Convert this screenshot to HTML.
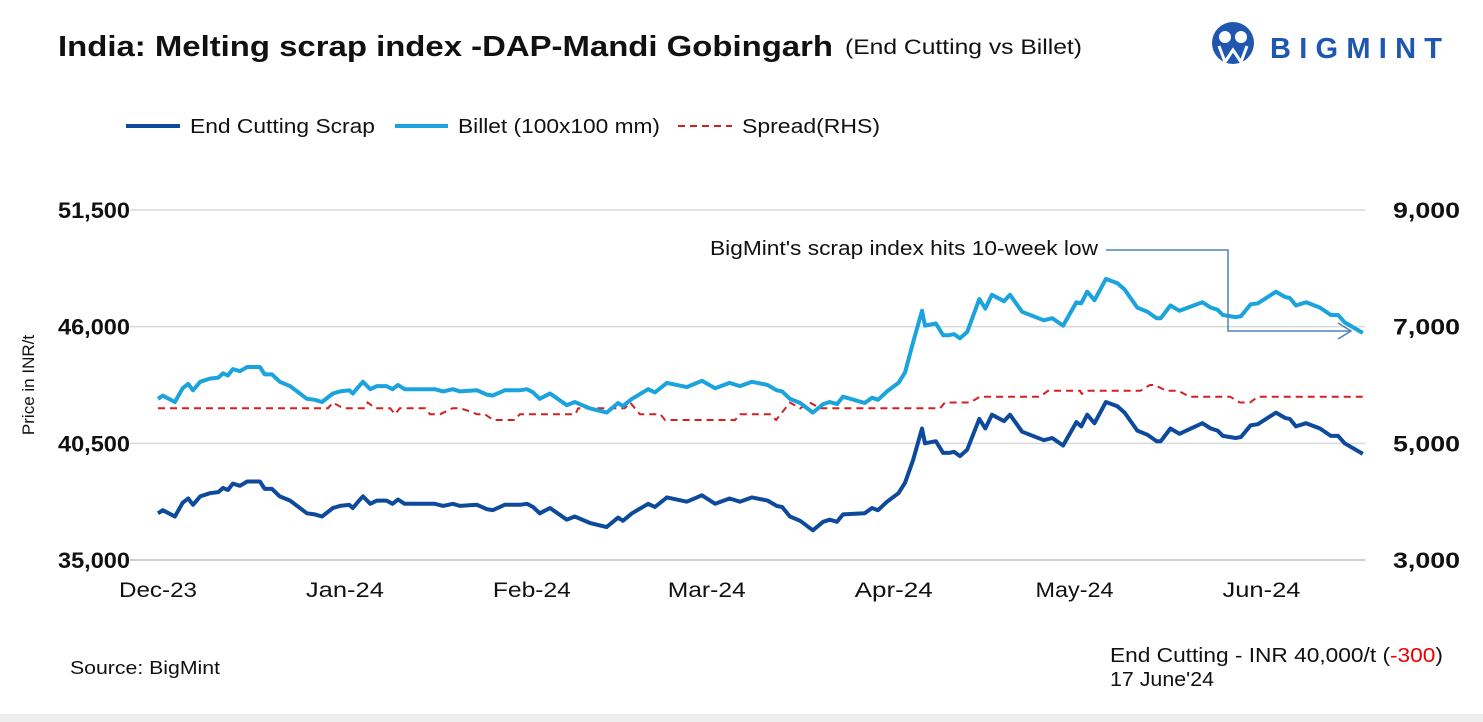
<!DOCTYPE html>
<html><head><meta charset="utf-8">
<style>
body{margin:0;background:#fff;width:1483px;height:722px;overflow:hidden;font-family:"Liberation Sans",sans-serif;}
svg{display:block}
</style></head>
<body>
<svg id="chart" width="1483" height="722" xmlns="http://www.w3.org/2000/svg">
<text x="58" y="56" font-size="29" font-weight="bold" fill="#111" textLength="775" lengthAdjust="spacingAndGlyphs">India: Melting scrap index -DAP-Mandi Gobingarh</text>
<text x="845" y="54" font-size="21" fill="#111" textLength="237" lengthAdjust="spacingAndGlyphs">(End Cutting vs Billet)</text>
<g>
<circle cx="1233" cy="43" r="21" fill="#1e56b0"/>
<circle cx="1225" cy="37" r="6" fill="#fff"/><circle cx="1241" cy="37" r="6" fill="#fff"/>
<path d="M1219 46 L1225 62 L1233 50 L1241 62 L1247 46" stroke="#fff" stroke-width="3" fill="none"/>
<text x="1270" y="58" font-size="29" font-weight="bold" fill="#1e56b0" textLength="172" lengthAdjust="spacing">BIGMINT</text>
</g>
<g>
<g><line x1="126" y1="126" x2="180" y2="126" stroke="#0d4a9c" stroke-width="4"/><text x="190" y="133" font-size="20" fill="#111" textLength="185" lengthAdjust="spacingAndGlyphs">End Cutting Scrap</text></g>
<g><line x1="395" y1="126" x2="448" y2="126" stroke="#1aa3dc" stroke-width="4"/><text x="458" y="133" font-size="20" fill="#111" textLength="202" lengthAdjust="spacingAndGlyphs">Billet (100x100 mm)</text></g>
<g><line x1="678" y1="126" x2="732" y2="126" stroke="#d42020" stroke-width="2" stroke-dasharray="7,5"/><text x="742" y="133" font-size="20" fill="#111" textLength="138" lengthAdjust="spacingAndGlyphs">Spread(RHS)</text></g>
</g>
<text transform="translate(34,385) rotate(-90)" text-anchor="middle" font-size="17" fill="#111">Price in INR/t</text>
<g id="grid"></g><g id="axes"></g><g id="series"></g>
<g>
<text x="710" y="255" font-size="20" fill="#111" textLength="388" lengthAdjust="spacingAndGlyphs">BigMint's scrap index hits 10-week low</text>
<polyline points="1106,250 1228,250 1228,331 1350,331" fill="none" stroke="#4f81bd" stroke-width="1.5"/>
<polyline points="1338,323 1351,331 1338,339" fill="none" stroke="#4f81bd" stroke-width="1.5"/>
</g>
<text x="70" y="674" font-size="18" fill="#111" textLength="150" lengthAdjust="spacingAndGlyphs">Source: BigMint</text>
<text x="1110" y="662" font-size="20" fill="#111" textLength="333" lengthAdjust="spacingAndGlyphs">End Cutting - INR 40,000/t (<tspan fill="#e00">-300</tspan>)</text>
<text x="1110" y="686" font-size="20" fill="#111" textLength="104" lengthAdjust="spacingAndGlyphs">17 June'24</text>
<rect x="0" y="714" width="1483" height="8" fill="#eeeeee"/>
</svg>
<script>
const days=[0,0.8,2.8,4.1,5,5.8,7,8.6,10,10.8,11.6,12.4,13.6,14.8,15.9,16.9,17.7,18.9,20.2,21.9,24.7,26,27.2,29,30.2,31.7,32.3,33.5,34,35.2,36.3,37.9,38.9,39.8,40.9,45.9,47.3,48.9,50.1,52.9,54.5,55.5,57.5,60,61.2,62.2,63.3,65,67.8,69.1,71.6,74.4,76.3,77.1,78.6,81.3,82.4,84.4,87.7,90.2,92.4,94.8,96.5,98.5,101.1,102.6,103.5,104.8,106.5,108.6,110.3,111.4,112.6,113.6,117.2,118.4,119.4,120.9,122.8,123.9,125.2,126.7,127.2,129,130.2,131.2,132,133,134.2,136.2,137.2,138.3,140.3,141.3,143.3,146.9,148.3,150.1,152.3,153.1,154.1,155.3,157.2,159.1,160.3,162.4,164.1,165.6,166.3,167.9,169.4,173.2,174.6,175.7,176.6,178.7,179.6,181.2,182.4,185.4,186.9,187.7,188.7,190.4,192.7,194.5,195.7,196.8,199.8];
const scrap=[37200,37350,37050,37700,37900,37600,38000,38150,38200,38400,38300,38600,38500,38700,38700,38700,38350,38350,38000,37800,37200,37150,37050,37450,37550,37600,37450,37850,38000,37650,37800,37800,37650,37850,37650,37650,37550,37650,37550,37600,37400,37350,37600,37600,37650,37500,37200,37450,36900,37050,36750,36550,37000,36850,37200,37650,37500,37950,37750,38050,37650,37900,37750,37950,37800,37550,37500,37050,36850,36400,36800,36900,36800,37150,37200,37450,37350,37750,38150,38650,39700,41200,40500,40600,40050,40050,40100,39900,40200,41650,41200,41850,41550,41850,41050,40650,40750,40400,41500,41300,41850,41450,42450,42250,41950,41100,40900,40600,40600,41200,40950,41450,41200,41100,40850,40750,40800,41350,41400,41950,41700,41650,41300,41450,41200,40850,40850,40500,40000];
const billet=[42600,42750,42450,43100,43300,43000,43400,43550,43600,43800,43700,44000,43900,44100,44100,44100,43750,43750,43400,43200,42600,42550,42450,42850,42950,43000,42850,43250,43400,43050,43200,43200,43050,43250,43050,43050,42950,43050,42950,43000,42800,42750,43000,43000,43050,42900,42600,42850,42300,42450,42150,41950,42400,42250,42600,43050,42900,43350,43150,43450,43100,43350,43200,43400,43250,43000,42950,42600,42400,41950,42350,42450,42350,42700,42400,42650,42550,42950,43350,43850,45250,46750,46050,46150,45600,45600,45650,45450,45750,47300,46850,47500,47200,47500,46700,46300,46400,46050,47150,47100,47650,47250,48250,48050,47750,46900,46700,46400,46400,47000,46750,47150,46900,46800,46550,46450,46500,47050,47100,47650,47400,47350,47000,47150,46900,46550,46550,46200,45700];
const spreadDays=[0,28.2,29,30.7,34.3,34.8,36,38.5,39.3,40.1,44.3,45.1,46.8,48.8,50.1,51.7,52.9,54.2,55.6,59.2,60,69.2,69.7,77.4,78.3,79.9,83.3,84.1,95.7,96.5,101.5,102.5,104.8,106.5,108.1,109.8,129.7,130.5,134.7,136.3,146.3,147.6,152.9,153.2,154.2,162.9,164.5,165.3,167.2,169.2,171.1,177.8,179.4,181.1,182.4,199.8];
const spread=[5600,5600,5700,5600,5600,5700,5600,5600,5500,5600,5600,5500,5500,5600,5600,5550,5500,5500,5400,5400,5500,5500,5600,5600,5700,5500,5500,5400,5400,5500,5500,5400,5700,5600,5700,5600,5600,5700,5700,5800,5800,5900,5900,5850,5900,5900,6000,6000,5900,5900,5800,5800,5700,5700,5800,5800];
const leftTicks=[35000,40500,46000,51500];
const rightTicks=[3000,5000,7000,9000];
const monthLabels=["Dec-23","Jan-24","Feb-24","Mar-24","Apr-24","May-24","Jun-24"];
const monthDays=[0,31,62,91,122,152,183];

const NS="http://www.w3.org/2000/svg";
const X0=158,PX=6.03,PLOT_L=130,PLOT_R=1365,YB=560,YT=210;
const xs=d=>X0+d*PX;
const yl=v=>YB-(v-35000)/(51500-35000)*(YB-YT);
const yr=v=>YB-(v-3000)/(9000-3000)*(YB-YT);
function mk(tag,attrs,parent){const e=document.createElementNS(NS,tag);for(const k in attrs)e.setAttribute(k,attrs[k]);parent.appendChild(e);return e;}
const grid=document.getElementById('grid'),axes=document.getElementById('axes'),ser=document.getElementById('series');
leftTicks.forEach((t,i)=>{
  if(i>0){const g=mk('line',{x1:PLOT_L,x2:PLOT_R,y1:yl(t),y2:yl(t),stroke:'#d9d9d9','stroke-width':1.5},grid);
  
  }
  const tx=mk('text',{x:58,y:yl(t)+8,'font-size':22,'font-weight':'bold',fill:'#111',textLength:72,lengthAdjust:'spacingAndGlyphs'},axes);
  tx.textContent=t.toLocaleString('en-US');
  
  
});
rightTicks.forEach(t=>{
  const tx=mk('text',{x:1393,y:yr(t)+8,'font-size':22,'font-weight':'bold',fill:'#111',textLength:67,lengthAdjust:'spacingAndGlyphs'},axes);
  tx.textContent=t.toLocaleString('en-US');
  
  
});
const ax=mk('line',{x1:PLOT_L,x2:PLOT_R,y1:YB,y2:YB,stroke:'#bfbfbf','stroke-width':1.5},axes);


monthLabels.forEach((m,i)=>{
  const tx=mk('text',{x:xs(monthDays[i])-39,y:597,'font-size':21,fill:'#111',textLength:78,lengthAdjust:'spacingAndGlyphs'},axes);
  tx.textContent=m;
  
  
});
function pts(ds,vs,f){return ds.map((d,i)=>xs(d).toFixed(1)+','+f(vs[i]).toFixed(1)).join(' ');}
const sp=mk('polyline',{points:pts(spreadDays,spread,yr),fill:'none',stroke:'#d42020','stroke-width':2,'stroke-dasharray':'7,5'},ser);


const bl=mk('polyline',{points:pts(days,billet,yl),fill:'none',stroke:'#1aa3dc','stroke-width':4,'stroke-linejoin':'round'},ser);


const sc=mk('polyline',{points:pts(days,scrap,yl),fill:'none',stroke:'#0d4a9c','stroke-width':4,'stroke-linejoin':'round'},ser);


</script>
</body></html>
